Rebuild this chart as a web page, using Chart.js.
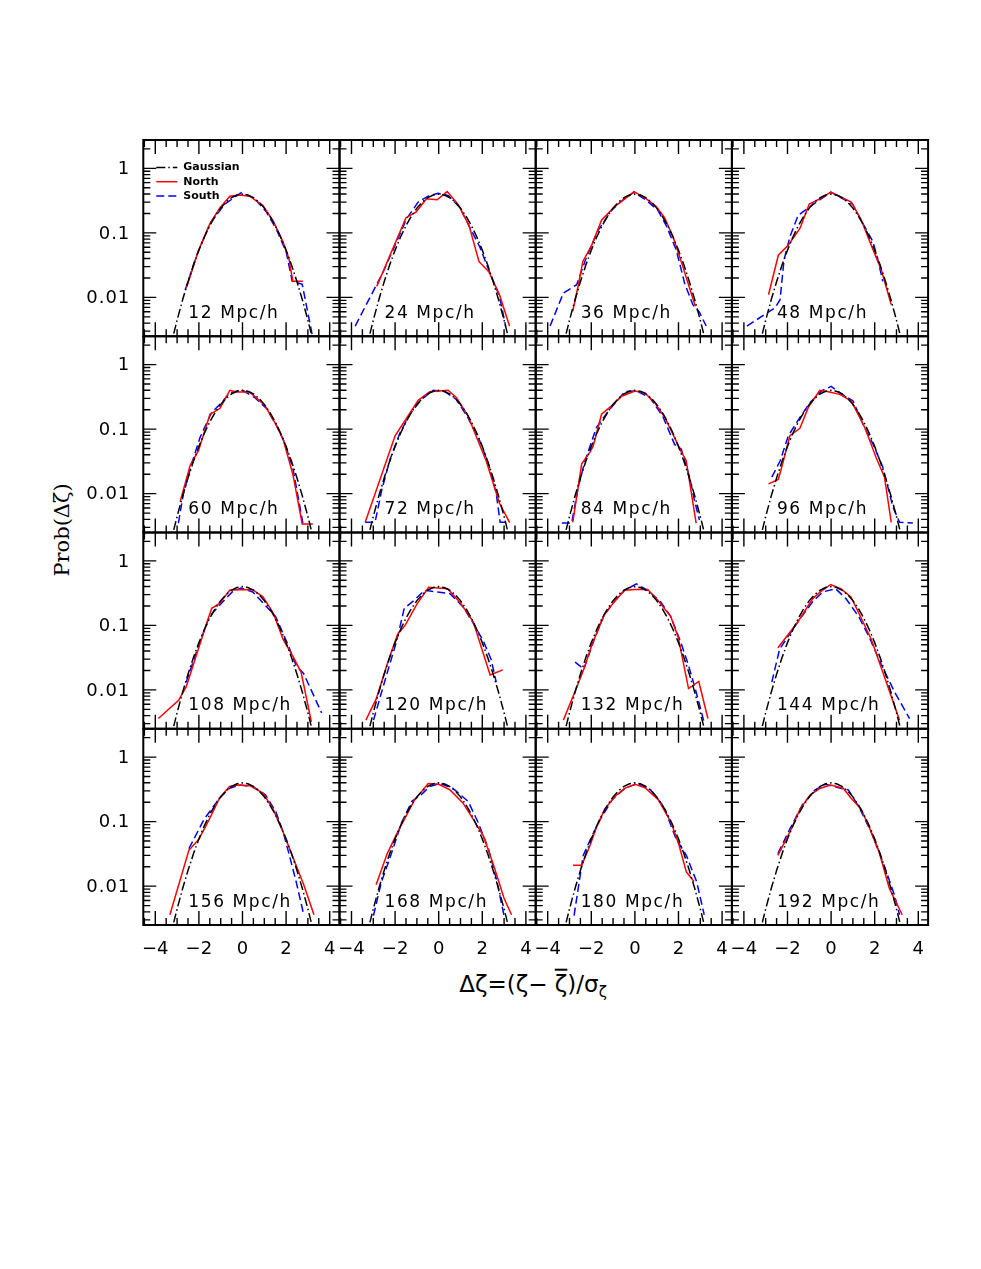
<!DOCTYPE html>
<html>
<head>
<meta charset="utf-8">
<script src="https://cdn.jsdelivr.net/npm/chart.js@4.4.0/dist/chart.umd.min.js"></script>
<style>
  html, body { margin: 0; padding: 0; background: #fff; }
  #fig { position: relative; width: 981px; height: 1269px; overflow: hidden; }
  #fig canvas { position: absolute; left: 0; top: 0; }
  .ytitle {
    position: absolute; left: 62px; top: 530px; white-space: nowrap;
    font-family: "DejaVu Serif", serif; font-size: 21px;
    transform: translate(-50%, -50%) rotate(-90deg);
  }
  .xtitle {
    position: absolute; left: 533px; top: 986px; white-space: nowrap;
    font-family: "DejaVu Sans", sans-serif; font-size: 23px;
    transform: translate(-50%, -50%);
  }
  .bar { text-decoration: overline; }
  sub { font-size: 15px; }
</style>
</head>
<body>
<div id="fig">
  <div class="ytitle">Prob(Δζ)</div>
  <div class="xtitle">Δζ=(ζ− <span class="bar">ζ</span>)/σ<sub>ζ</sub></div>
</div>
<script>
// smoothing scale of each panel
const sizeLabels = ['12 Mpc/h', '24 Mpc/h', '36 Mpc/h', '48 Mpc/h',
                    '60 Mpc/h', '72 Mpc/h', '84 Mpc/h', '96 Mpc/h',
                    '108 Mpc/h', '120 Mpc/h', '132 Mpc/h', '144 Mpc/h',
                    '156 Mpc/h', '168 Mpc/h', '180 Mpc/h', '192 Mpc/h'];

// reference gaussian (same in every panel)
const gaussX = [-3.5, -3.25, -3, -2.75, -2.5, -2.25, -2, -1.75, -1.5, -1.25, -1, -0.75, -0.5, -0.25, 0,
                0.25, 0.5, 0.75, 1, 1.25, 1.5, 1.75, 2, 2.25, 2.5, 2.75, 3, 3.25, 3.5];
const gaussY = [0.000873, 0.00203, 0.00443, 0.00909, 0.0175, 0.0317, 0.054, 0.0863, 0.1295, 0.1826, 0.242, 0.3011, 0.3521, 0.3867, 0.3989,
                0.3867, 0.3521, 0.3011, 0.242, 0.1826, 0.1295, 0.0863, 0.054, 0.0317, 0.0175, 0.00909, 0.00443, 0.00203, 0.000873];

// North sample, one list per panel
const northX = [
  [-2.56, -2.02, -1.49, -1.03, -0.58, -0.12, 0.33, 0.94, 1.40, 1.86, 2.13, 2.31, 2.77],
  [-2.84, -1.50, -1.04, -0.56, -0.07, 0.39, 0.89, 1.39, 1.85, 2.30, 2.79, 3.25],
  [-2.85, -2.59, -2.39, -1.98, -1.53, -0.92, -0.46, -0.04, 0.53, 0.98, 1.36, 1.75, 2.20, 2.77],
  [-2.87, -2.42, -1.96, -1.43, -1.00, -0.52, -0.01, 0.47, 0.93, 1.39, 1.84, 2.30, 2.76],
  [-2.86, -2.40, -2.02, -1.49, -1.03, -0.58, -0.27, 0.33, 1.02, 1.55, 1.86, 2.31, 2.74, 3.23],
  [-3.37, -2.00, -0.94, -0.41, 0.43, 0.81, 1.34, 2.18, 2.79, 3.25],
  [-2.85, -2.44, -2.06, -1.91, -1.53, -1.07, -0.61, 0.00, 0.45, 0.91, 1.37, 1.75, 2.13, 2.35, 2.81],
  [-2.87, -2.42, -2.19, -1.89, -1.43, -1.05, -0.52, -0.13, 0.40, 0.93, 1.54, 2.07, 2.45, 2.76],
  [-3.86, -2.93, -2.58, -1.64, -1.41, -1.05, -0.59, -0.23, 0.47, 0.94, 1.41, 1.87, 2.34, 2.69, 3.16],
  [-3.34, -2.87, -2.33, -1.89, -1.54, -1.00, -0.46, 0.41, 0.99, 1.58, 2.36, 2.94],
  [-3.28, -2.69, -2.34, -1.99, -1.41, -0.94, -0.47, 0.00, 0.59, 1.05, 1.64, 1.99, 2.46, 2.93, 3.35],
  [-2.44, -1.55, -0.84, -0.49, -0.02, 0.44, 0.91, 1.38, 1.85, 2.43, 3.14],
  [-3.33, -2.46, -1.99, -1.52, -1.05, -0.59, -0.23, 0.35, 0.94, 1.41, 1.87, 2.58, 2.81, 3.28],
  [-2.87, -2.36, -1.89, -1.12, -0.48, 0.00, 0.52, 1.11, 1.58, 2.05, 2.52, 2.99, 3.34],
  [-2.84, -2.44, -2.09, -1.74, -1.39, -0.92, -0.45, 0.02, 0.49, 1.07, 1.66, 2.01, 2.36, 2.71],
  [-2.44, -1.90, -1.43, -0.96, -0.49, -0.02, 0.56, 0.91, 1.38, 1.73, 2.20, 2.67, 3.26]
];
const northY = [
  [0.0145, 0.053, 0.14, 0.245, 0.37, 0.385, 0.37, 0.265, 0.155, 0.072, 0.04, 0.0178, 0.0178],
  [0.0148, 0.172, 0.21, 0.337, 0.326, 0.437, 0.276, 0.131, 0.0358, 0.025, 0.011, 0.0036],
  [0.0061, 0.0157, 0.0358, 0.0646, 0.157, 0.257, 0.337, 0.437, 0.337, 0.257, 0.172, 0.087, 0.030, 0.0073],
  [0.011, 0.045, 0.065, 0.117, 0.28, 0.337, 0.427, 0.356, 0.30, 0.157, 0.0646, 0.0268, 0.0077],
  [0.0075, 0.0274, 0.0464, 0.17, 0.21, 0.40, 0.375, 0.375, 0.235, 0.115, 0.07, 0.02, 0.0034, 0.0034],
  [0.0036, 0.079, 0.28, 0.38, 0.40, 0.31, 0.162, 0.032, 0.0071, 0.0036],
  [0.0036, 0.029, 0.044, 0.055, 0.17, 0.229, 0.324, 0.39, 0.366, 0.257, 0.152, 0.083, 0.044, 0.033, 0.0035],
  [0.0142, 0.0166, 0.032, 0.079, 0.103, 0.215, 0.40, 0.38, 0.346, 0.272, 0.107, 0.036, 0.018, 0.0036],
  [0.0036, 0.0069, 0.0112, 0.109, 0.184, 0.219, 0.35, 0.357, 0.357, 0.277, 0.155, 0.06, 0.032, 0.0187, 0.0032],
  [0.0034, 0.0072, 0.027, 0.072, 0.1, 0.214, 0.39, 0.37, 0.224, 0.115, 0.017, 0.0204],
  [0.0034, 0.0105, 0.021, 0.048, 0.145, 0.234, 0.35, 0.36, 0.36, 0.245, 0.138, 0.065, 0.0105, 0.0135, 0.0036],
  [0.045, 0.11, 0.26, 0.33, 0.43, 0.37, 0.275, 0.13, 0.06, 0.0166, 0.0034],
  [0.0036, 0.036, 0.054, 0.109, 0.232, 0.35, 0.37, 0.36, 0.277, 0.155, 0.068, 0.0166, 0.0105, 0.0036],
  [0.0105, 0.032, 0.068, 0.214, 0.39, 0.38, 0.31, 0.195, 0.109, 0.06, 0.021, 0.0066, 0.0036],
  [0.021, 0.021, 0.04, 0.085, 0.155, 0.245, 0.33, 0.38, 0.33, 0.219, 0.097, 0.045, 0.0166, 0.0118],
  [0.030, 0.068, 0.155, 0.26, 0.33, 0.37, 0.33, 0.232, 0.155, 0.085, 0.034, 0.0093, 0.0036]
];

// South sample, one list per panel
const southX = [
  [-2.63, -2.10, -1.49, -0.81, -0.05, 0.56, 1.10, 1.55, 2.01, 2.28, 2.74, 3.20],
  [-3.83, -2.54, -1.93, -1.47, -0.94, -0.48, -0.03, 0.43, 0.96, 1.42, 1.88, 2.33, 2.79, 3.07],
  [-3.89, -3.28, -2.67, -2.21, -1.68, -1.07, -0.54, -0.04, 0.53, 1.06, 1.44, 1.90, 2.28, 2.66, 2.96, 3.27],
  [-3.86, -2.57, -2.34, -2.16, -1.89, -1.51, -1.20, -0.67, -0.01, 0.55, 1.00, 1.46, 1.92, 2.15, 2.37],
  [-2.94, -2.71, -2.33, -1.95, -1.42, -0.96, -0.58, -0.05, 0.56, 1.10, 1.55, 1.93, 2.31, 2.77],
  [-3.37, -2.92, -2.61, -2.23, -1.78, -1.32, -0.79, -0.25, 0.28, 0.81, 1.34, 1.95, 2.33, 2.64, 2.82, 3.25],
  [-3.35, -2.90, -2.60, -2.29, -1.76, -1.15, -0.46, 0.07, 0.68, 1.28, 1.82, 2.13, 2.51, 2.73, 2.96],
  [-2.72, -2.34, -1.96, -1.43, -0.97, -0.44, 0.00, 0.47, 1.01, 1.46, 1.92, 2.37, 2.83, 3.14, 3.75],
  [-2.58, -1.99, -1.52, -1.05, -0.47, -0.07, 0.47, 0.94, 1.52, 2.11, 2.46, 2.81, 3.63],
  [-2.99, -2.40, -1.93, -1.58, -1.12, -0.65, -0.06, 0.52, 1.11, 1.58, 2.05, 2.40, 2.64],
  [-2.74, -2.34, -1.87, -1.41, -0.94, -0.47, 0.07, 0.59, 1.17, 1.64, 2.11, 2.46, 2.81, 3.16],
  [-2.72, -2.36, -1.55, -0.84, -0.38, 0.21, 0.68, 1.26, 1.73, 2.32, 2.91, 3.60],
  [-2.46, -1.76, -1.05, -0.59, -0.12, 0.47, 1.05, 1.52, 1.87, 2.11, 2.46, 2.81],
  [-2.99, -2.64, -2.17, -1.70, -1.23, -0.81, -0.41, 0.06, 0.64, 1.35, 1.81, 2.28, 2.64, 2.99],
  [-2.79, -2.37, -1.97, -1.58, -1.04, -0.45, 0.13, 0.72, 1.31, 1.89, 2.36, 2.83, 3.18],
  [-2.44, -1.90, -1.31, -0.73, -0.26, 0.44, 0.79, 1.26, 1.85, 2.43, 2.90, 3.14]
];
const southY = [
  [0.013, 0.045, 0.14, 0.28, 0.42, 0.34, 0.21, 0.115, 0.05, 0.0178, 0.016, 0.0026],
  [0.0036, 0.025, 0.073, 0.166, 0.30, 0.37, 0.41, 0.38, 0.25, 0.123, 0.061, 0.025, 0.0104, 0.0036],
  [0.0036, 0.0117, 0.0157, 0.043, 0.11, 0.224, 0.326, 0.427, 0.318, 0.224, 0.13, 0.054, 0.0166, 0.0077, 0.0059, 0.0036],
  [0.0036, 0.0069, 0.0092, 0.038, 0.087, 0.187, 0.224, 0.30, 0.427, 0.337, 0.276, 0.139, 0.073, 0.038, 0.0177],
  [0.0035, 0.010, 0.029, 0.074, 0.18, 0.257, 0.363, 0.41, 0.309, 0.21, 0.115, 0.062, 0.025, 0.0035],
  [0.0036, 0.0036, 0.0115, 0.034, 0.087, 0.17, 0.288, 0.40, 0.38, 0.288, 0.15, 0.059, 0.0256, 0.010, 0.0036, 0.0036],
  [0.0035, 0.0035, 0.0126, 0.032, 0.107, 0.204, 0.38, 0.39, 0.309, 0.158, 0.058, 0.049, 0.018, 0.0079, 0.0039],
  [0.018, 0.032, 0.079, 0.152, 0.257, 0.39, 0.46, 0.354, 0.272, 0.12, 0.059, 0.026, 0.0063, 0.0036, 0.0035],
  [0.0132, 0.051, 0.137, 0.206, 0.33, 0.38, 0.33, 0.224, 0.137, 0.048, 0.024, 0.0178, 0.0044],
  [0.0034, 0.0166, 0.057, 0.184, 0.245, 0.35, 0.33, 0.31, 0.195, 0.109, 0.057, 0.030, 0.0132],
  [0.027, 0.021, 0.06, 0.145, 0.234, 0.35, 0.44, 0.35, 0.234, 0.138, 0.054, 0.024, 0.0093, 0.0033],
  [0.0132, 0.043, 0.11, 0.234, 0.33, 0.37, 0.26, 0.138, 0.068, 0.024, 0.0093, 0.0036],
  [0.038, 0.109, 0.232, 0.33, 0.37, 0.35, 0.26, 0.145, 0.068, 0.034, 0.0118, 0.0036],
  [0.0035, 0.0112, 0.032, 0.097, 0.206, 0.26, 0.35, 0.39, 0.33, 0.206, 0.097, 0.038, 0.0132, 0.0036],
  [0.0035, 0.030, 0.06, 0.109, 0.219, 0.33, 0.39, 0.31, 0.174, 0.054, 0.030, 0.0118, 0.0036],
  [0.032, 0.076, 0.184, 0.31, 0.38, 0.33, 0.31, 0.174, 0.068, 0.021, 0.0074, 0.0036]
];

const xTickValues = [-4, -2, 0, 2, 4];
const xTickLabels = ['−4', '−2', '0', '2', '4'];
const yTickValues = [1, 0.1, 0.01];
const yTickLabels = ['1', '0.1', '0.01'];

const W = 981, H = 1269;
const gridLeft = 143.3, gridTop = 140, cellW = 196.2, cellH = 196.25;
const tickFont = '18px "DejaVu Sans"';

function pts(xs, ys) {
  return xs.map((x, i) => ({ x: x, y: ys[i] }));
}

// frame, inward ticks, tick labels, panel label, legend
const panelDecor = {
  id: 'panelDecor',
  afterDraw(chart, args, opts) {
    const { ctx, chartArea: a } = chart;
    const xs = chart.scales.x, ys = chart.scales.y;
    ctx.save();
    ctx.strokeStyle = '#000';
    ctx.lineWidth = 1.4;
    ctx.beginPath();
    for (let e = -3; e <= 0; e++) {
      for (let k = 1; k <= 9; k++) {
        const v = k * Math.pow(10, e);
        if (v < ys.min || v > ys.max) continue;
        const py = ys.getPixelForValue(v);
        const len = k === 1 ? 13 : 7;
        ctx.moveTo(a.left, py); ctx.lineTo(a.left + len, py);
        ctx.moveTo(a.right, py); ctx.lineTo(a.right - len, py);
      }
    }
    for (let i = -9; i <= 9; i++) {
      const v = i / 2;
      if (v <= xs.min || v >= xs.max) continue;
      const px = xs.getPixelForValue(v);
      const len = i % 4 === 0 ? 14 : 7;
      ctx.moveTo(px, a.top); ctx.lineTo(px, a.top + len);
      ctx.moveTo(px, a.bottom); ctx.lineTo(px, a.bottom - len);
    }
    ctx.stroke();
    ctx.lineWidth = 2;
    ctx.strokeRect(a.left, a.top, a.right - a.left, a.bottom - a.top);

    ctx.fillStyle = '#000';
    ctx.font = tickFont;
    if (opts.col === 0) {
      ctx.textAlign = 'right';
      ctx.textBaseline = 'middle';
      ctx.letterSpacing = '1px';
      yTickValues.forEach((v, i) => {
        ctx.fillText(yTickLabels[i], a.left - 13, ys.getPixelForValue(v) + 1);
      });
      ctx.letterSpacing = '0px';
    }
    if (opts.row === 3) {
      ctx.textAlign = 'center';
      ctx.textBaseline = 'alphabetic';
      xTickValues.forEach((v, i) => {
        ctx.fillText(xTickLabels[i], xs.getPixelForValue(v), a.bottom + 29);
      });
    }

    ctx.font = '17px "DejaVu Sans"';
    ctx.letterSpacing = '1.6px';
    ctx.textAlign = 'left';
    ctx.textBaseline = 'alphabetic';
    ctx.fillText(opts.label, a.left + 45, a.bottom - 18.5);
    ctx.letterSpacing = '0px';

    if (opts.legend) {
      const items = chart.data.datasets;
      ctx.font = 'bold 11px "DejaVu Sans"';
      ctx.textBaseline = 'middle';
      items.forEach((d, i) => {
        const ly = a.top + 27.5 + i * 14.2;
        ctx.strokeStyle = d.borderColor;
        ctx.lineWidth = d.borderWidth;
        ctx.setLineDash(d.borderDash || []);
        ctx.beginPath();
        ctx.moveTo(a.left + 13, ly);
        ctx.lineTo(a.left + 34, ly);
        ctx.stroke();
        ctx.fillText(d.label, a.left + 40, ly);
      });
      ctx.setLineDash([]);
    }
    ctx.restore();
  }
};

const fig = document.getElementById('fig');
for (let p = 0; p < 16; p++) {
  const row = Math.floor(p / 4), col = p % 4;
  const left = gridLeft + col * cellW;
  const top = gridTop + row * cellH;
  const canvas = document.createElement('canvas');
  canvas.width = W;
  canvas.height = H;
  fig.appendChild(canvas);

  new Chart(canvas.getContext('2d'), {
    type: 'line',
    data: {
      datasets: [
        {
          label: 'Gaussian',
          data: pts(gaussX, gaussY),
          borderColor: '#000000',
          borderWidth: 1.5,
          borderDash: [9, 3, 1.5, 3],
          pointRadius: 0
        },
        {
          label: 'North',
          data: pts(northX[p], northY[p]),
          borderColor: '#ff0000',
          borderWidth: 1.5,
          pointRadius: 0
        },
        {
          label: 'South',
          data: pts(southX[p], southY[p]),
          borderColor: '#0000ff',
          borderWidth: 1.5,
          borderDash: [8, 4],
          pointRadius: 0
        }
      ]
    },
    options: {
      responsive: false,
      animation: false,
      events: [],
      layout: {
        padding: { left: left, top: top, right: W - left - cellW, bottom: H - top - cellH }
      },
      scales: {
        x: { type: 'linear', min: -4.55, max: 4.45, display: false },
        y: { type: 'logarithmic', min: 0.0025, max: 2.75, display: false }
      },
      plugins: {
        legend: { display: false },
        tooltip: { enabled: false },
        panelDecor: { row: row, col: col, label: sizeLabels[p], legend: p === 0 }
      }
    },
    plugins: [panelDecor]
  });
}
</script>
</body>
</html>
